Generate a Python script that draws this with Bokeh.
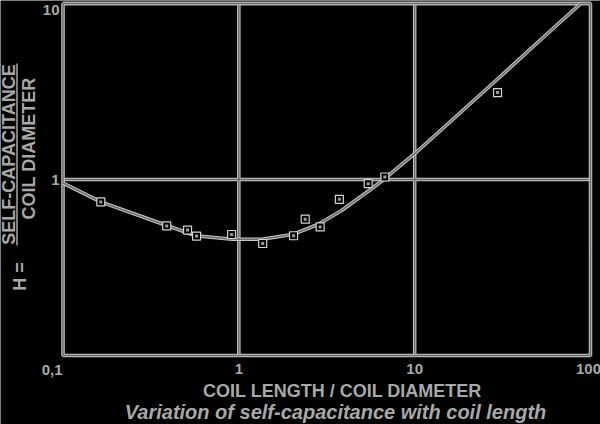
from bokeh.plotting import figure
from bokeh.models import Label
from bokeh.embed import file_html
from bokeh.resources import INLINE
import math

# ---- data ----
curve_ratio = [0.1, 0.164, 0.386, 0.570, 0.917, 1.355, 2.048, 2.836, 3.843, 5.44, 6.62, 10.0, 28.9, 51.5, 87.6]
curve_h = [0.955, 0.746, 0.550, 0.479, 0.458, 0.458, 0.489, 0.557, 0.667, 0.857, 0.994, 1.401, 3.64, 6.16, 9.96]

meas_ratio = [0.164, 0.389, 0.511, 0.575, 0.910, 1.367, 2.048, 2.385, 2.900, 3.73, 5.44, 6.77, 29.6]
meas_h = [0.746, 0.545, 0.516, 0.477, 0.487, 0.433, 0.479, 0.595, 0.538, 0.772, 0.947, 1.033, 3.12]

x_bounds = [0.1, 100]
y_bounds = [0.1, 10]
x_ticks = [1, 10]
x_tick_labels = ["1", "10"]
y_ticks = [1, 10]
y_tick_labels = ["1", "10"]

FONT = "Liberation Sans"
TXT = "#a8a8a8"
LIGHT = "#c6c6c6"
DARK = "#6c6c6c"

# pixel layout of the chart box on the canvas
BOX_L, BOX_R, BOX_T, BOX_B = 62.5, 590.0, 3.0, 355.0
XDEC = (BOX_R - BOX_L) / 3.0
YDEC = (BOX_B - BOX_T) / 2.0


def px2x(px):
    return 10 ** (math.log10(x_bounds[0]) + (px - BOX_L) / XDEC)


def py2y(py):
    return 10 ** (math.log10(y_bounds[1]) - (py - BOX_T) / YDEC)


W, H = 600, 424
p = figure(width=W, height=H, x_axis_type="log", y_axis_type="log",
           x_range=(px2x(0), px2x(W)), y_range=(py2y(H), py2y(0)),
           output_backend="svg", toolbar_location=None,
           min_border=0, background_fill_color="black", border_fill_color="black")
p.outline_line_color = None
p.xaxis.visible = False
p.yaxis.visible = False
p.grid.visible = False

# grid lines inside the box (halo + core)
nx, ny = len(x_ticks), len(y_ticks)
for col, lw in ((LIGHT, 3.5), (DARK, 1.5)):
    p.segment(x0=x_ticks, x1=x_ticks, y0=[y_bounds[0]] * nx, y1=[y_bounds[1]] * nx,
              line_color=col, line_width=lw)
    p.segment(x0=[x_bounds[0]] * ny, x1=[x_bounds[1]] * ny, y0=y_ticks, y1=y_ticks,
              line_color=col, line_width=lw)

# chart box
p.quad(left=[x_bounds[0]], right=[x_bounds[1]], bottom=[y_bounds[0]], top=[y_bounds[1]],
       fill_color=None, line_color=LIGHT, line_width=3.5)
p.quad(left=[x_bounds[0]], right=[x_bounds[1]], bottom=[y_bounds[0]], top=[y_bounds[1]],
       fill_color=None, line_color=DARK, line_width=1.5)

# curve
p.line(curve_ratio, curve_h, line_color=LIGHT, line_width=3.6)
p.line(curve_ratio, curve_h, line_color=DARK, line_width=1.6)

# measured points
p.scatter(meas_ratio, meas_h, marker="square", size=8, line_color="#d4d4d4", line_width=1.2,
          fill_color="black")
p.scatter(meas_ratio, meas_h, marker="square", size=3, line_color=None, fill_color="#9a9a9a")


def lab(text, px, py, align="center", size="15px", style="bold", angle=0.0):
    p.add_layout(Label(x=px2x(px), y=py2y(py), text=text, text_align=align, text_baseline="middle",
                       angle=angle, text_font=FONT, text_font_style=style,
                       text_font_size=size, text_color=TXT))


def tick_label(text, x, y, align):
    p.add_layout(Label(x=x, y=y, text=text, text_align=align, text_baseline="middle",
                       text_font=FONT, text_font_style="bold", text_font_size="15px", text_color=TXT))


# tick labels
for t, s in zip(x_ticks, x_tick_labels):
    tick_label(s, t, py2y(368), "center")
for t, s in zip(y_ticks, y_tick_labels):
    tick_label(s, px2x(59), min(t, py2y(9)), "right")
lab("0,1", 62, 369, align="right")
lab("100", 588, 368)

# titles
lab("COIL LENGTH / COIL DIAMETER", 342, 390, size="18px")
lab("Variation of self-capacitance with coil length", 335, 411, size="20px", style="bold italic")

rot = math.pi / 2
lab("SELF-CAPACITANCE", 8, 154, size="18px", angle=rot)
lab("COIL DIAMETER", 28, 148, size="18px", angle=rot)
lab("H =", 19, 276, size="18px", angle=rot)
p.segment(x0=[px2x(16.5)], x1=[px2x(16.5)], y0=[py2y(245)], y1=[py2y(63)], line_color=TXT,
          line_width=1.5)

open("out.html", "w").write(file_html(p, INLINE))
